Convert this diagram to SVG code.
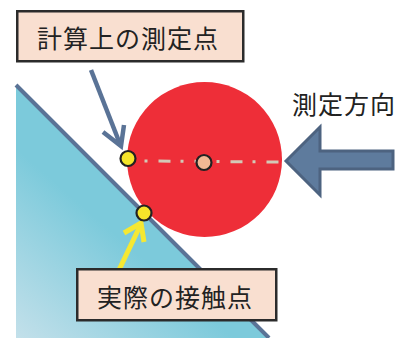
<svg xmlns="http://www.w3.org/2000/svg" width="410" height="338" viewBox="0 0 410 338">
<defs>
<linearGradient id="wedge" x1="16" y1="338" x2="110" y2="230" gradientUnits="userSpaceOnUse">
<stop offset="0" stop-color="#c3e0ea"/>
<stop offset="1" stop-color="#7ccadb"/>
</linearGradient>
<style>
.lbl{font-family:"Noto Sans CJK JP","Noto Sans",sans-serif;font-size:25px;fill:#222;letter-spacing:1px}
.box{fill:#f9dfd0;stroke:#2b2b2b;stroke-width:2.5}
.dot{stroke:#222;stroke-width:2.2}
</style>
</defs>
<g id="wedge-shape">
<polygon points="16,85 16,338 269,338" fill="url(#wedge)"/>
<line x1="16" y1="85" x2="269" y2="338" stroke="#5a7396" stroke-width="4"/>
</g>
<g id="ball">
<circle cx="204.5" cy="159.5" r="77.5" fill="#ee2e38"/>
</g>
<g id="connectors">
<line x1="144.5" y1="161" x2="279" y2="162" stroke="#d3c9b6" stroke-width="3" stroke-dasharray="3 11 12 10"/>
<line x1="91" y1="70" x2="120" y2="144" stroke="#5a7396" stroke-width="4.5"/>
<polyline points="103,132 121,146 124,125" fill="none" stroke="#5a7396" stroke-width="4.5" stroke-linejoin="miter"/>
<line x1="118" y1="272" x2="140" y2="226" stroke="#f5e833" stroke-width="5"/>
<polyline points="124,233 141,223 144,242" fill="none" stroke="#f5e833" stroke-width="5"/>
</g>
<g id="calc-point">
<circle class="dot" cx="128" cy="158.5" r="7.5" fill="#f5e52a"/>
</g>
<g id="center-point">
<circle class="dot" cx="204" cy="162.5" r="7.5" fill="#f2b894"/>
</g>
<g id="contact-point">
<circle class="dot" cx="144" cy="213" r="7.5" fill="#f5e52a"/>
</g>
<g id="direction-arrow">
<polygon points="286,161 320,127 320,151 393,151 393,169 320,169 320,195" fill="#5e7b9d" stroke="#4d6380" stroke-width="3" stroke-linejoin="miter"/>
<text class="lbl" x="292" y="114">測定方向</text>
</g>
<g id="label-calc">
<rect class="box" x="17.25" y="11.25" width="226" height="50"/>
<text class="lbl" x="37" y="48">計算上の測定点</text>
</g>
<g id="label-contact">
<rect class="box" x="77.25" y="269.25" width="199" height="51"/>
<text class="lbl" x="97" y="307">実際の接触点</text>
</g>
</svg>
